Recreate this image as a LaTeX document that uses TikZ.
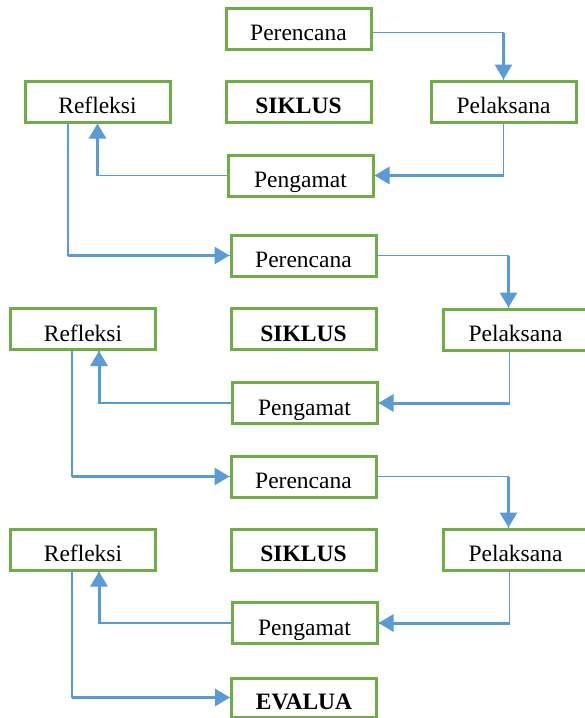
\documentclass[tikz,border=0pt]{standalone}
\usepackage{fontspec}
\setmainfont{Liberation Serif}
\usetikzlibrary{arrows.meta,positioning}
\definecolor{boxgreen}{HTML}{70AD47}
\definecolor{flowblue}{HTML}{5B9BD5}
\tikzset{
  >={Triangle[length=15pt,width=17pt]},
  stage/.style={draw=boxgreen,line width=3pt,fill=white,minimum width=145pt,
    minimum height=41pt,inner sep=0pt,text height=28pt,text depth=4pt,
    font=\fontsize{23.5}{28}\selectfont},
  headbox/.style={stage,font=\fontsize{23.5}{28}\selectfont\bfseries},
  thinflow/.style={flowblue,line width=1.6pt},
  flow/.style={->,flowblue,line width=3pt},
}

\begin{document}
\begin{tikzpicture}[x=1pt,y=-1pt]
  \useasboundingbox (0,0) rectangle (585,718);

  % siklus 1
  \node[stage] (per1) at (298.5,28.5) {Perencana};
  \node[stage] (ref1) at (97.5,101.5) {Refleksi};
  \node[headbox] (sik1) at (298.5,101.5) {SIKLUS};
  \node[stage] (pel1) at (503.5,101.5) {Pelaksana};
  \node[stage] (pen1) at (300.5,175.5) {Pengamat};

  % siklus 2
  \node[stage] (per2) at (303.5,255.5) {Perencana};
  \node[stage] (ref2) at (83,329) {Refleksi};
  \node[headbox] (sik2) at (303.5,329) {SIKLUS};
  \node[stage] (pel2) at (515.5,329.5) {Pelaksana};
  \node[stage] (pen2) at (304.5,403) {Pengamat};

  % siklus 3
  \node[stage] (per3) at (303.5,476.5) {Perencana};
  \node[stage] (ref3) at (83,549.5) {Refleksi};
  \node[headbox] (sik3) at (303.5,549.5) {SIKLUS};
  \node[stage] (pel3) at (515.5,549.5) {Pelaksana};
  \node[stage] (pen3) at (304.5,623) {Pengamat};
  \node[headbox,minimum height=39pt] (eval) at (304,697.5) {EVALUA};

  % ports
  \coordinate (p1in) at ([yshift=-4pt]per1.east);
  \coordinate (r1out) at ([xshift=-29.5pt]ref1.south);
  \coordinate (p2in) at ([xshift=-7pt]pel2.north);
  \coordinate (p2out) at ([xshift=-6pt]pel2.south);
  \coordinate (r2in) at ([xshift=16pt]ref2.south);
  \coordinate (r2out) at ([xshift=-11pt]ref2.south);
  \coordinate (p3in) at ([xshift=-7pt]pel3.north);
  \coordinate (p3out) at ([xshift=-6pt]pel3.south);
  \coordinate (r3in) at ([xshift=16pt]ref3.south);
  \coordinate (r3out) at ([xshift=-11pt]ref3.south);

  % siklus 1 arrows
  \draw[thinflow] (p1in) -| (pel1.north);
  \draw[flow] (p1in -| pel1.north) -- (pel1.north);
  \draw[thinflow] (pel1.south) |- (pen1.east);
  \draw[flow] (pel1.south |- pen1.east) -- (pen1.east);
  \draw[thinflow] (pen1.west) -| (ref1.south);
  \draw[flow] (pen1.west -| ref1.south) -- (ref1.south);
  \draw[thinflow] (r1out) |- (per2.west);
  \draw[flow] (r1out |- per2.west) -- (per2.west);

  % siklus 2 arrows
  \draw[thinflow] (per2.east) -| (p2in);
  \draw[flow] (per2.east -| p2in) -- (p2in);
  \draw[thinflow] (p2out) |- (pen2.east);
  \draw[flow] (p2out |- pen2.east) -- (pen2.east);
  \draw[thinflow] (pen2.west) -| (r2in);
  \draw[flow] (pen2.west -| r2in) -- (r2in);
  \draw[thinflow] (r2out) |- (per3.west);
  \draw[flow] (r2out |- per3.west) -- (per3.west);

  % siklus 3 arrows
  \draw[thinflow] (per3.east) -| (p3in);
  \draw[flow] (per3.east -| p3in) -- (p3in);
  \draw[thinflow] (p3out) |- (pen3.east);
  \draw[flow] (p3out |- pen3.east) -- (pen3.east);
  \draw[thinflow] (pen3.west) -| (r3in);
  \draw[flow] (pen3.west -| r3in) -- (r3in);
  \draw[thinflow] (r3out) |- (eval.west);
  \draw[flow] (r3out |- eval.west) -- (eval.west);
\end{tikzpicture}
\end{document}
